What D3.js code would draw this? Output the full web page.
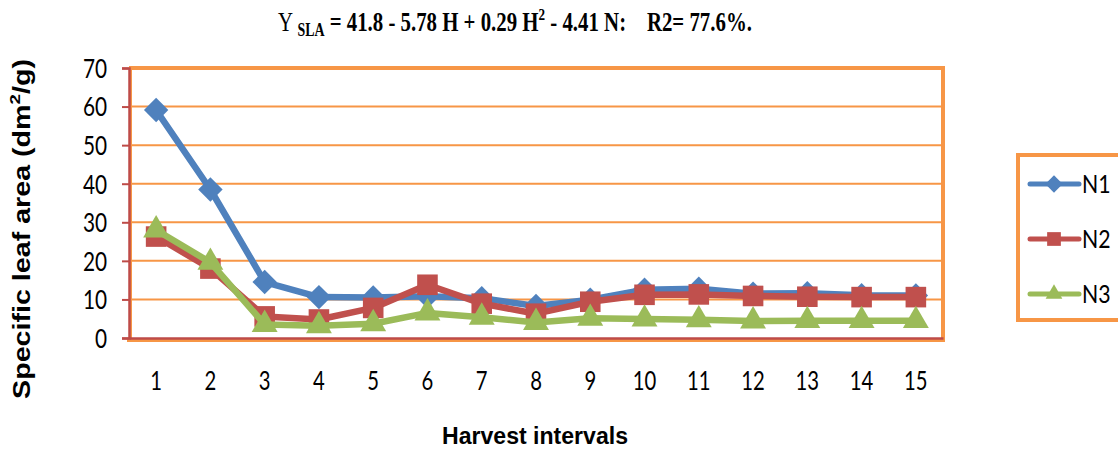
<!DOCTYPE html>
<html><head><meta charset="utf-8">
<script src="https://cdn.jsdelivr.net/npm/d3@7"></script>
<style>body{margin:0;background:#fff;} svg{display:block;}</style>
</head><body>
<svg id="chart" width="1118" height="451"></svg>
<script>
const categories = [1,2,3,4,5,6,7,8,9,10,11,12,13,14,15];
const seriesNames = ["N1","N2","N3"];
const n1 = [59.1,38.5,14.5,10.6,10.5,10.8,10.3,8.3,9.9,12.5,12.8,11.5,11.6,11.1,11.0];
const n2 = [26.3,18.0,5.6,4.8,7.8,13.8,8.9,6.3,9.4,11.2,11.3,10.9,10.7,10.6,10.6];
const n3 = [28.0,19.6,3.5,3.2,3.7,6.5,5.4,4.0,5.1,4.9,4.7,4.4,4.5,4.5,4.5];
const yTicks = [0,10,20,30,40,50,60,70];
const colors = ["#4F81BD","#C0504D","#9BBB59"];
const symbols = [d3.symbolDiamond2, d3.symbolSquare2, d3.symbolTriangle2];
const markerSizes = [380, 540, 480];
const legendSizes = [190, 240, 200];

const svg = d3.select("#chart");
const L = 129, R = 943, T = 68, B = 338;
const x = d3.scaleBand().domain(categories).range([L, R]);
const y = d3.scaleLinear().domain([0,70]).range([B, T]);
const tickFont = "Lato, 'Open Sans', sans-serif";

function fitWidth(sel, target, base) {
  const w = sel.node().getComputedTextLength();
  sel.attr("transform", base + ` scale(${target / w},1)`);
}

// gridlines
svg.append("g").selectAll("line").data(yTicks.filter(d=>d>0)).join("line")
  .attr("x1", L).attr("x2", R).attr("y1", d=>y(d)).attr("y2", d=>y(d))
  .attr("stroke", "#F79646").attr("stroke-width", 2);
svg.append("line").attr("x1",L).attr("x2",R+2).attr("y1",T).attr("y2",T).attr("stroke","#F79646").attr("stroke-width",4);
svg.append("line").attr("x1",R).attr("x2",R).attr("y1",T).attr("y2",B+3).attr("stroke","#F79646").attr("stroke-width",4);
svg.append("line").attr("x1",L-2).attr("x2",R+2).attr("y1",B+2.5).attr("y2",B+2.5).attr("stroke","#F79646").attr("stroke-width",3);
svg.append("line").attr("x1",L+2).attr("x2",L+2).attr("y1",T).attr("y2",B).attr("stroke","#F79646").attr("stroke-width",2);

// y axis
const yAxis = d3.axisLeft(y).tickValues(yTicks).tickSize(7).tickPadding(14);
const gy = svg.append("g").attr("transform", `translate(${L},0)`).call(yAxis);
gy.select(".domain").attr("stroke", "#BE4B48").attr("stroke-width", 2.5);
gy.selectAll(".tick line").attr("stroke", "#BE4B48").attr("stroke-width", 2);
gy.selectAll(".tick text").attr("font-family",tickFont).attr("font-size", 26).attr("fill","#000")
  .attr("x", 0).attr("dy","0.36em").attr("transform","translate(-22,0) scale(0.8,1)");

// x axis
const xAxis = d3.axisBottom(x).tickSize(0).tickPadding(34);
const gx = svg.append("g").attr("transform", `translate(0,${B})`).call(xAxis);
gx.select(".domain").attr("stroke", "#BE4B48").attr("stroke-width", 2.5);
gx.selectAll(".tick text").attr("font-family",tickFont).attr("font-size", 26).attr("fill","#000")
  .attr("transform","scale(0.78,1)");

// series
const allSeries = [n1, n2, n3];
const line = d3.line().x((d,i)=>x(categories[i]) + x.bandwidth()/2).y(d=>y(d));
[0,1,2].forEach(k => {
  const g = svg.append("g");
  g.append("path").datum(allSeries[k]).attr("d", line).attr("fill","none")
    .attr("stroke", colors[k]).attr("stroke-width", 6.5).attr("stroke-linejoin","round");
  g.selectAll("path.m").data(allSeries[k]).join("path").attr("class","m")
    .attr("transform", (d,i)=>`translate(${x(categories[i]) + x.bandwidth()/2},${y(d)})`)
    .attr("d", d3.symbol().type(symbols[k]).size(markerSizes[k]))
    .attr("fill", colors[k]);
});

// title
const title = svg.append("text").attr("text-anchor","start").style("white-space","pre")
  .attr("font-family","'Liberation Serif', 'Times New Roman', serif").attr("font-size", 27).attr("fill","#000");
title.append("tspan").text("Y ");
title.append("tspan").attr("font-weight","bold").attr("font-size",18).attr("dy",5).text("SLA");
title.append("tspan").attr("font-weight","bold").attr("dy",-5).text(" = 41.8 - 5.78 H + 0.29 H");
title.append("tspan").attr("font-weight","bold").attr("font-size",17).attr("dy",-11).text("2");
title.append("tspan").attr("font-weight","bold").attr("dy",11).text(" - 4.41 N:    R2= 77.6%.");
fitWidth(title, 474, "translate(278,31)");

// y title
const yt = svg.append("text").attr("text-anchor","middle")
  .attr("font-family","'Liberation Sans', Arial, sans-serif").attr("font-weight","bold").attr("font-size",23).attr("fill","#000");
yt.append("tspan").text("Specific leaf area (dm");
yt.append("tspan").attr("font-size",15).attr("dy",-10).text("2");
yt.append("tspan").attr("dy",10).text("/g)");
fitWidth(yt, 340, "translate(30,229) rotate(-90)");

// x title
const xt = svg.append("text").attr("text-anchor","middle")
  .attr("font-family","'Liberation Sans', Arial, sans-serif").attr("font-weight","bold").attr("font-size",24)
  .attr("fill","#000").text("Harvest intervals");
fitWidth(xt, 186, "translate(535,444)");

// legend
svg.append("rect").attr("x",1018).attr("y",155).attr("width",130).attr("height",165)
  .attr("fill","#fff").attr("stroke","#F79646").attr("stroke-width",4);
const leg = svg.append("g").selectAll("g").data(seriesNames).join("g")
  .attr("transform",(d,i)=>`translate(0,${184 + i*55})`);
leg.append("line").attr("x1",1030).attr("x2",1079).attr("stroke",(d,i)=>colors[i]).attr("stroke-width",5).attr("stroke-linecap","round");
leg.append("path").attr("transform","translate(1054,0)")
  .attr("d",(d,i)=>d3.symbol().type(symbols[i]).size(legendSizes[i])())
  .attr("fill",(d,i)=>colors[i]);
leg.append("text").attr("x",0).attr("y",0).attr("dy","0.36em").attr("font-family",tickFont).attr("font-size",25)
  .attr("fill","#000").attr("transform","translate(1082,0) scale(0.85,1)").text(d=>d);
</script>
</body></html>
